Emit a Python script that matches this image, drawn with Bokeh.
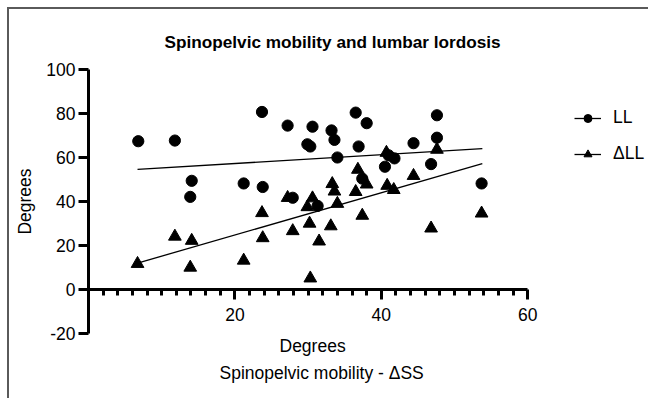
from bokeh.plotting import figure
from bokeh.models import (LinearAxis, FixedTicker, Legend, LegendItem, Range1d,
                          PrintfTickFormatter, Title)
from bokeh.embed import file_html
from bokeh.resources import INLINE

# ---- data ----
ss_ll = [6.8, 11.8, 13.9, 14.1, 21.2, 23.7, 23.8, 27.2, 27.9, 29.9, 30.3, 30.6, 31.3, 33.2,
         33.6, 34.0, 36.5, 36.9, 37.4, 38.0, 40.5, 41.0, 41.8, 44.4, 46.8, 47.6, 47.6, 53.7]
ll = [67.4, 67.7, 42.1, 49.4, 48.2, 80.7, 46.6, 74.5, 41.7, 66.0, 65.0, 74.0, 38.0, 72.3,
      68.0, 60.0, 80.4, 65.0, 50.4, 75.6, 55.8, 61.0, 59.6, 66.5, 57.0, 79.2, 69.0, 48.2]

ss_dll = [6.7, 11.8, 13.9, 14.1, 21.2, 23.7, 23.8, 27.2, 27.9, 29.9, 30.2, 30.3, 30.6, 31.5,
          33.1, 33.3, 33.6, 34.0, 36.5, 36.8, 37.4, 38.0, 40.7, 40.8, 41.7, 44.4, 46.8, 47.6, 53.7]
dll = [11.7, 24.1, 10.0, 22.2, 13.2, 34.8, 23.4, 41.7, 26.6, 37.5, 30.0, 5.1, 41.5, 21.9,
       28.8, 48.0, 44.6, 39.0, 44.4, 54.5, 33.6, 47.8, 62.2, 47.2, 45.3, 51.7, 27.8, 63.6, 34.6]

fit_x = [6.7, 53.8]
ll_fit = [54.6, 64.0]
dll_fit = [12.0, 57.2]

x_ticks = [20, 40, 60]
x_minor = list(range(2, 60, 2))
y_ticks = [-20, 0, 20, 40, 60, 80, 100]

title_text = "Spinopelvic mobility and lumbar lordosis"
axis_title = "Degrees"
x_subtitle = "Spinopelvic mobility - \u0394SS"
labels = ["LL", "\u0394LL"]

FONT = "Liberation Sans"
TXT = "17.5px"

# the frame runs to the right edge (no outline) so the legend sits inside it;
# the visible x axis is limited to 0..60 with bounds
p = figure(width=648, height=398, output_backend="svg", toolbar_location=None,
           x_range=Range1d(0, 76.5), y_range=Range1d(-20, 100),
           x_axis_location=None, y_axis_location=None,
           min_border_left=88, min_border_right=0, min_border_top=69, min_border_bottom=65)
p.grid.visible = False
p.outline_line_color = None
p.background_fill_color = "white"
p.border_fill_color = None
# thin top/left frame lines of the original figure box
p.styles = {"background-color": "white",
            "box-shadow": "inset 7px 7px 0 0 #ffffff, inset 9px 9px 0 0 #5a5a5a"}

# title
p.title.text = title_text
p.title.align = "left"
p.title.offset = 76
p.title.text_font = FONT
p.title.text_font_size = "17.2px"
p.title.text_font_style = "bold"
p.title.text_color = "black"
p.title.standoff = 35


def style_label(ax, standoff):
    ax.axis_label_text_font = FONT
    ax.axis_label_text_font_size = TXT
    ax.axis_label_text_font_style = "normal"
    ax.axis_label_text_color = "black"
    ax.axis_label_standoff = standoff


# y axis
yax = LinearAxis(ticker=FixedTicker(ticks=y_ticks, minor_ticks=[]), axis_label=axis_title,
                 formatter=PrintfTickFormatter(format="%d"))
yax.axis_line_width = 3
yax.major_tick_line_width = 3
yax.major_tick_out = 10
yax.major_tick_in = 0
yax.minor_tick_line_color = None
yax.major_label_standoff = 3
yax.major_label_text_font = FONT
yax.major_label_text_font_size = TXT
yax.major_label_text_color = "black"
style_label(yax, 8)
p.add_layout(yax, "left")

# x axis drawn at y = 0
xax = LinearAxis(ticker=FixedTicker(ticks=x_ticks, minor_ticks=x_minor), fixed_location=0,
                 bounds=(0, 60), formatter=PrintfTickFormatter(format="%d"))
xax.axis_line_width = 3
xax.major_tick_line_width = 3
xax.major_tick_out = 10
xax.major_tick_in = 0
xax.minor_tick_line_width = 3
xax.minor_tick_out = 6
xax.minor_tick_in = 0
xax.major_label_standoff = 8
xax.major_label_text_font = FONT
xax.major_label_text_font_size = TXT
xax.major_label_text_color = "black"
p.add_layout(xax, "below")

# x axis title and sub-caption below the plot
for text, off, stand in [(axis_title, 191, 0), (x_subtitle, 131, 11)]:
    t = Title(text=text, align="left", offset=off, standoff=stand)
    t.text_font = FONT
    t.text_font_size = TXT
    t.text_font_style = "normal"
    t.text_color = "black"
    p.add_layout(t, "below")

# data
r_llfit = p.line(fit_x, ll_fit, line_color="black", line_width=1.3)
r_dllfit = p.line(fit_x, dll_fit, line_color="black", line_width=1.3)
r_ll = p.scatter(ss_ll, ll, marker="circle", size=11.2, fill_color="black", line_color="black")
r_dll = p.scatter(ss_dll, dll, marker="triangle", size=12.7, fill_color="black", line_color="black")

legend = Legend(items=[LegendItem(label=labels[0], renderers=[r_llfit, r_ll]),
                       LegendItem(label=labels[1], renderers=[r_dllfit, r_dll])],
                location=(486, 169))
legend.glyph_width = 27
legend.glyph_height = 20
legend.spacing = 15
legend.padding = 0
legend.margin = 0
legend.label_standoff = 12
legend.label_text_font = FONT
legend.label_text_font_size = TXT
legend.label_text_color = "black"
legend.border_line_color = None
legend.background_fill_alpha = 0
p.add_layout(legend, "center")

open("out.html", "w").write(file_html(p, INLINE))
